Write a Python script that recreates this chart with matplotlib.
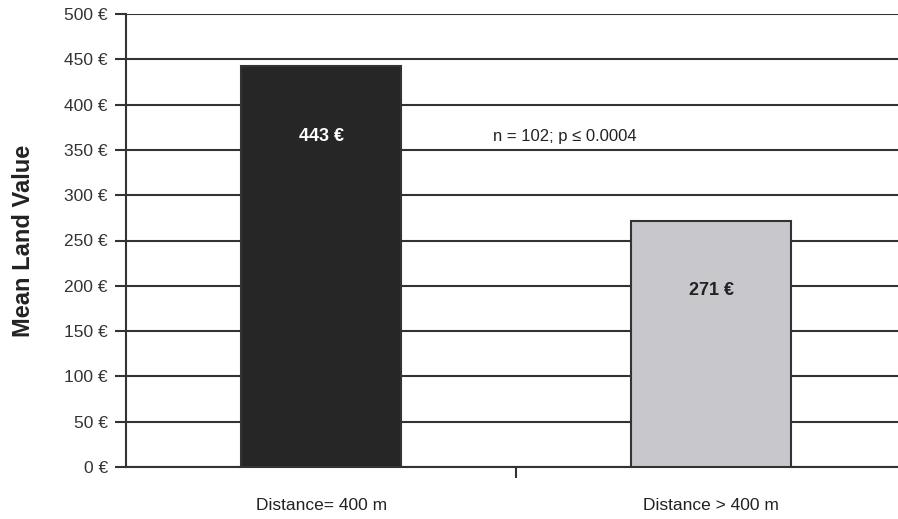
import matplotlib
matplotlib.use("Agg")
import matplotlib.pyplot as plt

categories = ["Distance= 400 m", "Distance > 400 m"]
values = [443, 271]
value_labels = ["443 €", "271 €"]
yticks = [0, 50, 100, 150, 200, 250, 300, 350, 400, 450, 500]
annotation = "n = 102; p ≤ 0.0004"

plt.rcParams['font.family'] = ['Liberation Sans', 'DejaVu Sans']

fig = plt.figure(figsize=(8.98, 5.19), dpi=100)
ax = fig.add_axes([126/898, 52/519, (906.5-126)/898, (467-14)/519])

x = [0, 1]
ax.bar(x, values, width=0.41, color=["#262626", "#c8c8cc"], edgecolor="#333333",
       linewidth=1.5, zorder=3)
ax.set_xlim(-0.5, 1.5)
ax.set_ylim(0, 500)
ax.set_yticks(yticks)
ax.set_yticklabels([f"{v} €" for v in yticks], fontsize=12.5, color="#333333")
for v in yticks:
    ax.axhline(v, color="#333333", linewidth=1.5, zorder=1)

ax.set_xticks([0.5])
ax.set_xticklabels([""])
ax.tick_params(axis='x', length=8, width=1.5, color="#333333", direction='out')
ax.tick_params(axis='y', length=8, width=1.5, color="#333333", direction='out', pad=5)
for i, c in enumerate(categories):
    ax.text(x[i], -42, c, ha='center', va='center', fontsize=12.5, color="#222222")

for s in ['top', 'right']:
    ax.spines[s].set_visible(False)
ax.spines['left'].set_linewidth(1.5)
ax.spines['left'].set_color("#333333")
ax.spines['bottom'].set_linewidth(1.5)
ax.spines['bottom'].set_color("#333333")

ax.text(0, 365, value_labels[0], ha='center', va='center', fontsize=13,
        fontweight='bold', color='white', zorder=4)
ax.text(1, 195, value_labels[1], ha='center', va='center', fontsize=13,
        fontweight='bold', color='#222222', zorder=4)
ax.text(0.44, 365, annotation, ha='left', va='center', fontsize=12, color="#222222")

ax.set_ylabel("Mean Land Value", fontsize=17, fontweight='bold', color="#222222")
ax.yaxis.set_label_coords(-(126 - 35) / (906.5 - 126), 0.50)

fig.savefig("out.png", dpi=100)
